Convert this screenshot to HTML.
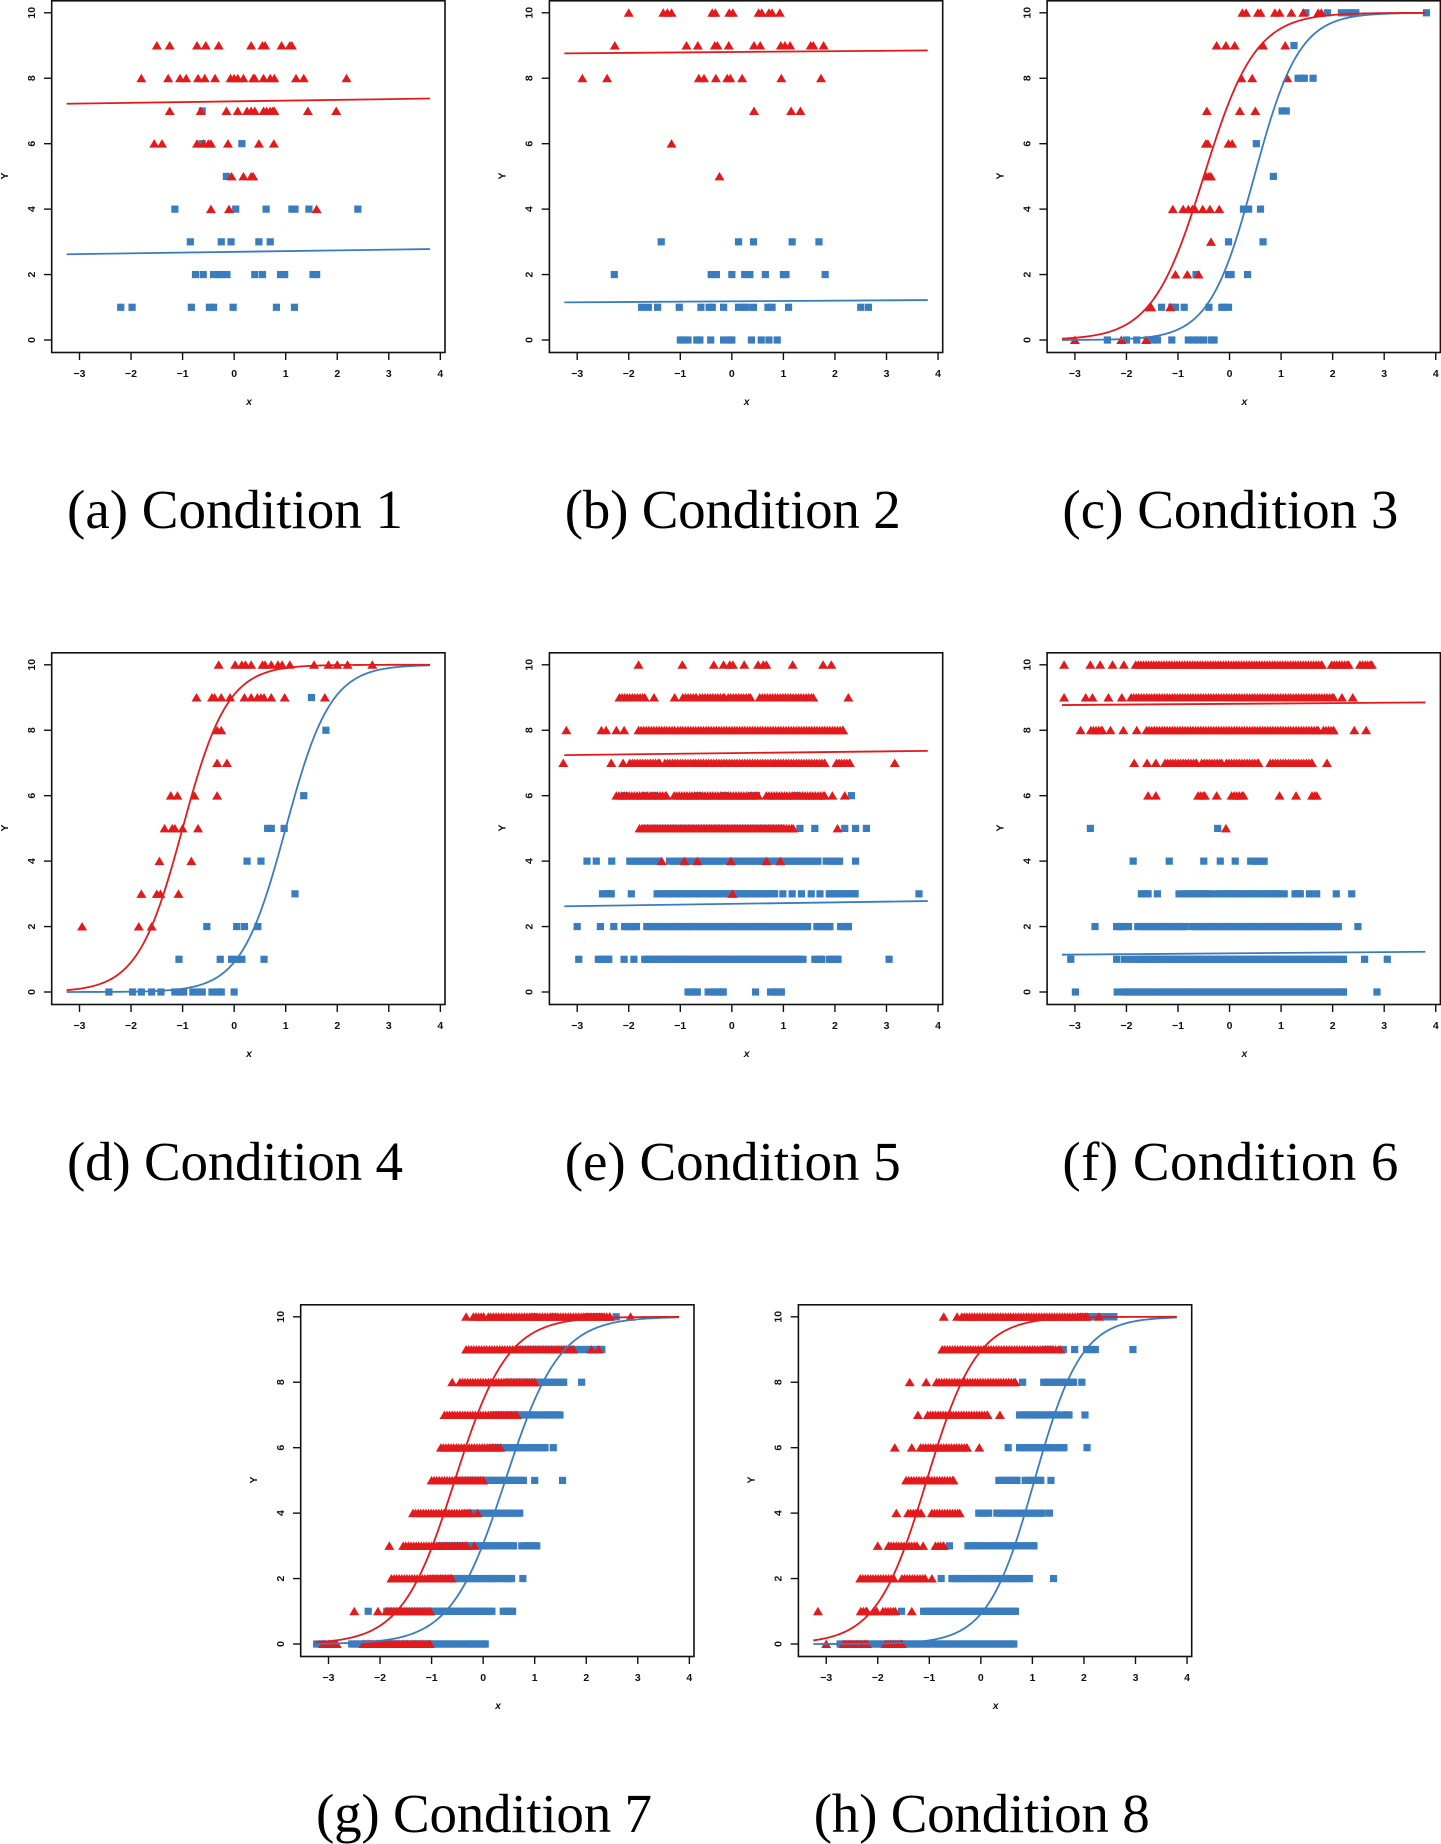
<!DOCTYPE html>
<html><head><meta charset="utf-8"><style>
html,body{margin:0;padding:0;background:#fff;}
svg{display:block;}
.tk{font-family:"Liberation Sans",sans-serif;font-size:10.5px;font-weight:bold;fill:#111;}
.cap{font-family:"Liberation Serif",serif;font-size:55px;fill:#000;}
</style></head><body>
<svg id="fig" width="1441" height="1844" viewBox="0 0 1441 1844" xmlns="http://www.w3.org/2000/svg"></svg>
<script>
// ---- data (entries: [y, x values or [xStart,xEnd] runs of overlapping markers]) ----
const captions = ["(a)  Condition 1","(b)  Condition 2","(c)  Condition 3","(d)  Condition 4","(e)  Condition 5","(f)  Condition 6","(g)  Condition 7","(h)  Condition 8"];
const xTicks = [-3,-2,-1,0,1,2,3,4];
const yTicks = [0,2,4,6,8,10];

const redA = [[9,-1.5,-1.25,-0.72,-0.55,-0.3,0.33,0.55,0.6,0.92,1.08,1.12],[8,-1.8,-1.28,-1.05,-0.93,-0.7,-0.57,-0.37,-0.07,0,0.07,0.18,0.37,0.4,0.57,0.7,0.78,1.2,1.35,2.18],[7,-1.25,-0.65,-0.15,0.07,0.25,0.33,0.4,0.57,0.63,0.7,0.75,0.78,1.43,1.98],[6,-1.55,-1.4,-0.72,-0.6,-0.5,-0.45,-0.12,0.48,0.77],[5,-0.05,0.18,0.33,0.37],[4,-0.45,-0.1,1.6]];
const blueA = [[7,-0.62],[6,-0.62,0.15],[5,-0.15],[4,-1.15,0.03,0.62,1.12,1.18,1.45,2.4],[3,-0.85,-0.25,-0.06,0.48,0.7],[2,-0.75,-0.6,-0.4,-0.3,-0.25,-0.14,0.4,0.55,0.9,0.98,1.53,1.6],[1,-2.2,-1.98,-0.83,-0.48,-0.4,-0.02,0.82,1.17]];
const redB = [[10,-2.0,-1.33,-1.25,-1.17,-0.38,-0.32,-0.05,0.02,0.52,0.58,0.72,0.78,0.93],[9,-2.27,-0.88,-0.66,-0.33,-0.28,-0.06,0.43,0.55,0.95,1.03,1.13,1.53,1.58,1.78],[8,-2.9,-2.42,-0.64,-0.54,-0.31,-0.09,-0.03,0.2,0.96,1.73],[7,0.43,1.15,1.33],[6,-1.17],[5,-0.24]];
const blueB = [[3,-1.37,0.13,0.42,1.17,1.69],[2,-2.28,-0.4,-0.3,0,0.25,0.35,0.65,1.0,1.05,1.81],[1,-1.75,-1.62,-1.44,-1.02,-0.6,-0.44,-0.38,-0.16,0.13,0.22,0.28,0.42,0.7,0.78,1.1,2.5,2.65],[0,-1.0,-0.95,-0.85,-0.68,-0.62,-0.41,-0.16,-0.05,0,0.38,0.57,0.72,0.88]];
const redC = [[10,0.25,0.32,0.55,0.6,0.88,0.97,1.2,1.43,1.72,1.78],[9,-0.25,-0.07,0.1,0.65,1.08],[8,0.23,0.44,1.12],[7,-0.44,0.2,0.5],[6,-0.46,-0.42,-0.02,0.05],[5,-0.45,-0.4,-0.36],[4,-1.1,-0.9,-0.8,-0.72,-0.67,-0.52,-0.38,-0.2],[3,-0.36],[2,-1.05,-0.82,-0.6],[1,-1.55,-1.52,-1.15],[0,-3,-2.1,-1.62]];
const blueC = [[10,1.48,1.9,2.17,2.3,2.38,2.45,3.82],[9,1.25],[8,1.33,1.4,1.45,1.62],[7,1.02,1.1],[6,0.52],[5,0.85],[4,0.27,0.37,0.6],[3,-0.02,0.65],[2,-0.65,-0.02,0.03,0.35],[1,-1.32,-1.12,-1.05,-0.88,-0.4,-0.15,-0.1,-0.02],[0,-2.37,-2.0,-1.8,-1.6,-1.5,-1.4,-1.12,-0.8,-0.7,-0.6,-0.5,-0.35,-0.3]];
const redD = [[10,-0.3,0.02,0.15,0.22,0.33,0.55,0.6,0.72,0.85,0.93,1.08,1.55,1.83,2.0,2.2,2.68],[9,-0.73,-0.43,-0.38,-0.25,-0.08,0.2,0.33,0.45,0.52,0.58,0.72,0.98,1.76],[8,-0.33,-0.25],[7,-0.33,-0.14],[6,-1.23,-1.1,-0.77,-0.33],[5,-1.35,-1.2,-1.15,-1.0,-0.7],[4,-1.45,-0.83],[3,-1.8,-1.5,-1.43,-1.08],[2,-2.95,-1.85,-1.6]];
const blueD = [[9,1.5],[8,1.78],[6,1.35],[5,0.65,0.72,0.97],[4,0.25,0.52],[3,1.18],[2,-0.53,0.05,0.2,0.46],[1,-1.07,-0.27,-0.05,0.05,0.15,0.58],[0,-2.43,-1.97,-1.8,-1.6,-1.42,-1.15,-1.05,-0.98,-0.8,-0.7,-0.62,-0.43,-0.3,-0.25,0.0]];
const redE = [[10,-1.81,-0.96,-0.35,-0.16,-0.04,0.02,0.24,0.51,0.61,0.67,1.18,1.77,1.93],[9,[-2.18,-1.69],-1.51,-1.11,[-0.95,-0.69],[-0.62,-0.14],[-0.07,0.36],[0.54,1.04],[1.09,1.58],2.26],[8,-3.21,-2.53,-2.44,-2.24,-2.09,[-1.81,-1.11],[-1.05,2.16]],[7,-3.27,-2.34,-2.11,[-1.98,-1.4],[-1.3,1.8],[2.03,2.29],3.16],[6,[-2.24,-1.27],[-1.12,0.51],[0.67,1.8],1.95,2.19],[5,[-1.79,1.19],2.05],[4,-1.36,-0.92,-0.67,-0.02,0.67,0.94],[3,0.01]];
const blueE = [[6,-2.08,-1.69,-1.5,-0.66,-0.14,0.38,0.48,1.25,2.32],[5,[-1.69,0.96],1.32,1.61,2.19,2.4,2.61],[4,-2.81,-2.63,-2.33,[-1.98,-1.43],[-1.21,-0.17],[-0.04,1.67],[1.83,2.09],2.4],[3,[-2.51,-2.34],-1.95,[-1.45,0.83],0.99,1.17,1.35,1.54,1.71,[1.89,2.39],3.63],[2,-3.0,-2.55,-2.29,[-2.08,-1.85],[-1.65,-0.79],[-0.71,1.47],[1.65,1.9],[2.11,2.26]],[1,-2.97,[-2.59,-2.39],-2.09,-1.9,[-1.69,-1.43],[-1.37,-0.85],[-0.77,1.28],1.38,[1.61,1.74],[1.89,2.06],3.05],[0,[-0.85,-0.67],-0.46,[-0.37,-0.17],0.46,[0.75,0.96]]];
const redF = [[10,-3.21,-2.7,-2.51,-2.27,-2.05,[-1.82,1.79],[1.98,2.31],[2.53,2.76]],[9,-3.21,-2.79,-2.66,-2.35,-2.09,[-1.91,2.02],2.18,2.39],[8,-2.89,[-2.69,-2.47],-2.31,-2.06,-1.8,[-1.61,1.72],[1.82,2.02],2.42,2.65],[7,-1.85,-1.6,-1.43,[-1.25,-0.64],[-0.54,-0.15],[-0.06,0.56],[0.79,1.6],1.89],[6,-1.58,-1.43,[-0.61,-0.48],-0.25,[0.04,0.27],0.97,1.29,[1.6,1.69]],[5,-0.07]];
const blueF = [[5,-2.7,-0.23],[4,-1.87,-1.17,-0.5,-0.18,0.11,[0.41,0.67]],[3,[-1.71,-1.58],-1.4,-0.98,[-0.88,-0.41],-0.29,[-0.19,0.2],[0.27,0.46],[0.54,0.95],1.06,[1.27,1.37],1.55,1.69,2.07,2.37],[2,-2.61,[-2.19,-2.08],-1.96,[-1.78,-0.86],[-0.72,1.53],[1.6,1.89],[1.97,2.11],2.49],[1,-3.08,-2.19,-2.04,-1.9,[-1.8,-1.4],[-1.3,2.21],2.62,3.06],[0,-2.99,-2.18,[-2.05,-1.54],[-1.43,-0.7],[-0.64,0.85],[0.93,1.76],[1.85,2.21],2.86]];
const redG = [[10,-0.33,[-0.19,0.01],[0.1,2.46],2.86],[9,[-0.33,1.75],2.1,2.24],[8,-0.6,[-0.45,1.0]],[7,[-0.75,0.65]],[6,[-0.82,0.33]],[5,[-1.0,0.0]],[4,[-1.36,-0.25],-0.11],[3,-1.82,[-1.55,-0.32],-0.17],[2,[-1.78,-0.61]],[1,-2.5,-2.04,[-1.88,-1.03]],[0,[-3.1,-2.84],[-2.32,-1.03]]];
const blueG = [[10,0.98,1.36,[2.0,2.27],2.58],[9,[0.75,2.3]],[8,[0.46,1.56],1.91],[7,[0.2,1.49]],[6,[0.17,1.2],1.36],[5,[-0.45,0.78],1.0,1.54],[4,[-0.32,0.71]],[3,[-0.83,0.59],[0.75,1.04]],[2,[-1.0,0.26],[0.36,0.55],0.77],[1,-2.23,[-1.87,0.17],[0.39,0.57]],[0,[-3.23,-3.13],[-2.55,-0.19],[-0.12,0.04]]];
const redH = [[10,-0.72,-0.46,[-0.37,2.06],2.29],[9,[-0.75,1.54]],[8,-1.38,-1.06,[-0.86,0.67]],[7,-1.22,[-1.03,0.13],0.37],[6,-1.67,-1.34,[-1.17,-0.27],-0.03],[5,[-1.45,-0.53]],[4,-1.64,[-1.41,-1.16],[-0.95,-0.41]],[3,-2.0,[-1.79,-1.24],-1.12,[-0.88,-0.72]],[2,[-2.34,-1.69],[-1.53,-1.08],-0.95],[1,-3.16,[-2.33,-2.21],[-2.08,-2.02],[-1.9,-1.66],-1.34],[0,-3.0,[-2.66,-2.21],[-1.85,-1.53]]];
const blueH = [[10,[1.93,2.58]],[9,[1.25,1.35],1.6,1.82,[2.05,2.22],2.95],[8,0.81,[1.22,1.8],1.96],[7,[0.75,1.48],[1.58,1.71],2.02],[6,0.53,[0.75,1.38],[1.48,1.61],2.06],[5,[0.35,0.7],[0.86,1.16],1.36],[4,[-0.04,0.15],[0.31,1.19],1.33],[3,-0.61,[-0.25,0.02],[0.12,1.03]],[2,-0.77,[-0.56,-0.46],[-0.4,0.94],1.41],[1,-1.54,[-1.11,0.67]],[0,[-2.73,0.64]]];

// fitted lines: [y at x=-3.25, y at x=3.8]; logistic fits: [midpoint, slope]
const lineRedA=[7.22,7.38], lineBlueA=[2.62,2.78];
const lineRedB=[8.76,8.85], lineBlueB=[1.15,1.22];
const lineRedE=[7.24,7.37], lineBlueE=[2.62,2.78];
const lineRedF=[8.77,8.85], lineBlueF=[1.14,1.23];
const logRedC=[-0.5,2.0], logBlueC=[0.48,2.3];
const logRedD=[-1.0,2.3], logBlueD=[1.0,2.3];
const logRedG=[-0.55,1.95], logBlueG=[0.43,1.9];
const logRedH=[-1.05,2.05], logBlueH=[1.04,2.2];

const RED="#e31a1c", BLUE="#3a7dbf";
const svg=document.getElementById('fig');
const NS="http://www.w3.org/2000/svg";
function mk(tag,attrs,parent){const e=document.createElementNS(NS,tag);for(const k in attrs)e.setAttribute(k,attrs[k]);(parent||svg).appendChild(e);return e;}

const panels=[
 {ox:0,oy:0,red:redA,blue:blueA,kind:'line',r:lineRedA,b:lineBlueA},
 {ox:497.7,oy:0,red:redB,blue:blueB,kind:'line',r:lineRedB,b:lineBlueB},
 {ox:995.4,oy:0,red:redC,blue:blueC,kind:'log',r:logRedC,b:logBlueC},
 {ox:0,oy:652,red:redD,blue:blueD,kind:'log',r:logRedD,b:logBlueD},
 {ox:497.7,oy:652,red:redE,blue:blueE,kind:'line',r:lineRedE,b:lineBlueE},
 {ox:995.4,oy:652,red:redF,blue:blueF,kind:'line',r:lineRedF,b:lineBlueF},
 {ox:249,oy:1304,red:redG,blue:blueG,kind:'log',r:logRedG,b:logBlueG},
 {ox:746.7,oy:1304,red:redH,blue:blueH,kind:'log',r:logRedH,b:logBlueH}
];

panels.forEach((p,i)=>{
  const g=mk('g',{});
  
  
  const X=x=>p.ox+79.5+(x+3)*51.55;
  const Y=y=>p.oy+12.8+(10-y)*32.72;
  // points
  function drawSeries(data,color,isTri,name){
    const sg=mk('g',{fill:color},g);
    
    
    data.forEach(row=>{
      const yv=row[0];
      for(let k=1;k<row.length;k++){
        const v=row[k];
        let xs=[];
        if(Array.isArray(v)){for(let t=v[0];t<=v[1]+1e-9;t+=0.05)xs.push(t);xs.push(v[1]);}
        else xs=[v];
        xs.forEach(xv=>{
          const cx=X(xv),cy=Y(yv);
          let m;
          if(isTri) m=mk('polygon',{points:`${cx-5},${cy+4} ${cx+5},${cy+4} ${cx},${cy-4.5}`},sg);
          else m=mk('rect',{x:cx-3.6,y:cy-3.6,width:7.2,height:7.2},sg);
          
          
        });
      }
    });
  }
  drawSeries(p.blue,BLUE,false,'blue-series');
  drawSeries(p.red,RED,true,'red-series');
  // fits
  function fit(par,color,name){
    let d='';
    if(p.kind==='line'){d=`M${X(-3.25)},${Y(par[0])} L${X(3.8)},${Y(par[1])}`;}
    else{for(let s=0;s<=141;s++){const xv=-3.25+s*0.05;const yv=10/(1+Math.exp(-par[1]*(xv-par[0])));d+=(s?'L':'M')+X(xv).toFixed(2)+','+Y(yv).toFixed(2);}}
    const pa=mk('path',{d:d,fill:'none',stroke:color,'stroke-width':1.8},g);
    
    
  }
  fit(p.b,BLUE,'blue-fit-curve');
  fit(p.r,RED,'red-fit-curve');
  // box
  const box=mk('rect',{x:p.ox+51.7,y:p.oy+0.8,width:393.3,height:351.7,fill:'none',stroke:'#111','stroke-width':1.6},g);
  
  
  xTicks.forEach(t=>{
    const tl=mk('line',{x1:X(t),x2:X(t),y1:p.oy+352.5,y2:p.oy+360,stroke:'#111','stroke-width':1.4},g);
    
    
    const tx=mk('text',{x:X(t),y:p.oy+377,'text-anchor':'middle',class:'tk'},g);
    tx.textContent=(t<0?'\u2212'+(-t):String(t));
    
    
  });
  yTicks.forEach(t=>{
    const tl=mk('line',{x1:p.ox+44,x2:p.ox+51.7,y1:Y(t),y2:Y(t),stroke:'#111','stroke-width':1.4},g);
    
    
    const tx=mk('text',{x:0,y:0,'text-anchor':'middle',class:'tk',transform:`translate(${p.ox+35},${Y(t)}) rotate(-90)`},g);
    tx.textContent=String(t);
    
    
  });
  const xl=mk('text',{x:p.ox+249,y:p.oy+405,'text-anchor':'middle',class:'tk','font-style':'italic','font-size':'14px','font-weight':'normal'},g);
  xl.textContent='x';
  
  
  const yl=mk('text',{x:0,y:0,'text-anchor':'middle',class:'tk',transform:`translate(${p.ox+8},${p.oy+176}) rotate(-90)`,'font-weight':'normal','font-size':'11px'},g);
  yl.textContent='Y';
  
  
  const cp=mk('text',{x:p.ox+235,y:p.oy+528,'text-anchor':'middle',class:'cap',textLength:336,lengthAdjust:'spacing'},g);
  cp.textContent=captions[i];
  
  
});
</script>
</body></html>
